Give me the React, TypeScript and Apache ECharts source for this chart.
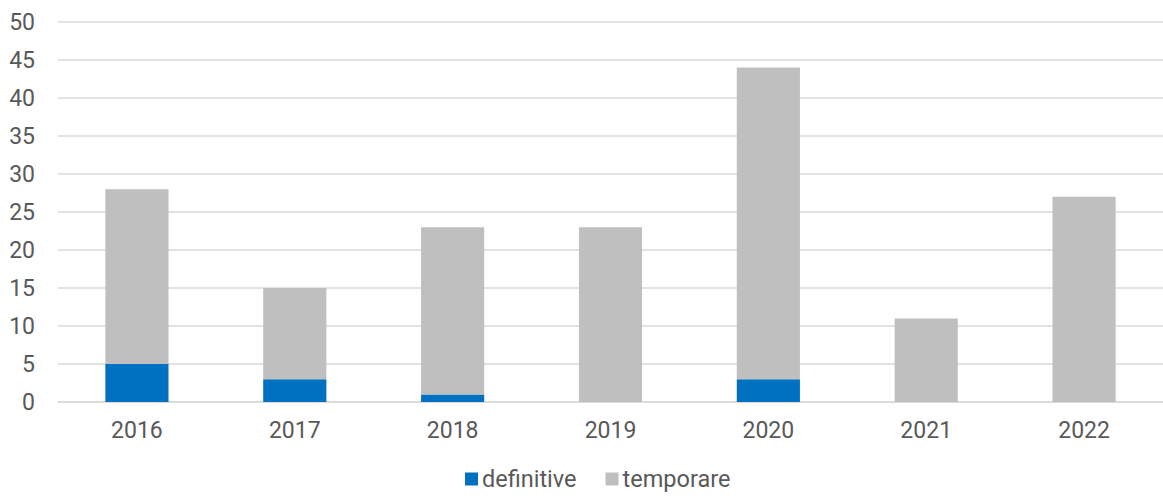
import React, { useEffect, useRef } from "react";
import * as echarts from "echarts";

const categories = ["2016", "2017", "2018", "2019", "2020", "2021", "2022"];
const definitive = [5, 3, 1, 0, 3, 0, 0];
const temporare = [23, 12, 22, 23, 41, 11, 27];
const yTicks = { min: 0, max: 50, interval: 5 };

export default function App() {
  const ref = useRef<HTMLDivElement>(null);
  useEffect(() => {
    document.body.style.margin = "0";
    const chart = echarts.init(ref.current!, undefined, { renderer: "svg" });
    const font = "Roboto";
    chart.setOption({
      animation: false,
      textStyle: { fontFamily: font },
      grid: { left: 58, width: 1110, top: 22, bottom: 94, containLabel: false },
      legend: {
        bottom: 0,
        left: 460,
        itemWidth: 13,
        itemHeight: 13,
        itemGap: 29,
        icon: "rect",
        textStyle: { fontSize: 23.5, color: "#595959", fontFamily: font, padding: [0, 0, 0, -1] },
        data: ["definitive", "temporare"],
      },
      xAxis: {
        type: "category",
        data: categories,
        axisLine: { lineStyle: { color: "#d9d9d9", width: 1.5 } },
        axisTick: { show: false },
        axisLabel: { fontSize: 23, color: "#595959", margin: 17, fontFamily: font },
      },
      yAxis: {
        type: "value",
        min: yTicks.min,
        max: yTicks.max,
        interval: yTicks.interval,
        axisLine: { show: false },
        axisTick: { show: false },
        splitLine: { lineStyle: { color: "#d9d9d9", width: 1.5 } },
        axisLabel: { fontSize: 23, color: "#595959", margin: 23, fontFamily: font },
      },
      series: [
        {
          name: "definitive",
          type: "bar",
          stack: "total",
          data: definitive,
          barWidth: "40%",
          itemStyle: { color: "#0070C0" },
        },
        {
          name: "temporare",
          type: "bar",
          stack: "total",
          data: temporare,
          barWidth: "40%",
          itemStyle: { color: "#BFBFBF" },
        },
      ],
    });
    return () => chart.dispose();
  }, []);
  return <div ref={ref} style={{ width: 1163, height: 496 }} />;
}
